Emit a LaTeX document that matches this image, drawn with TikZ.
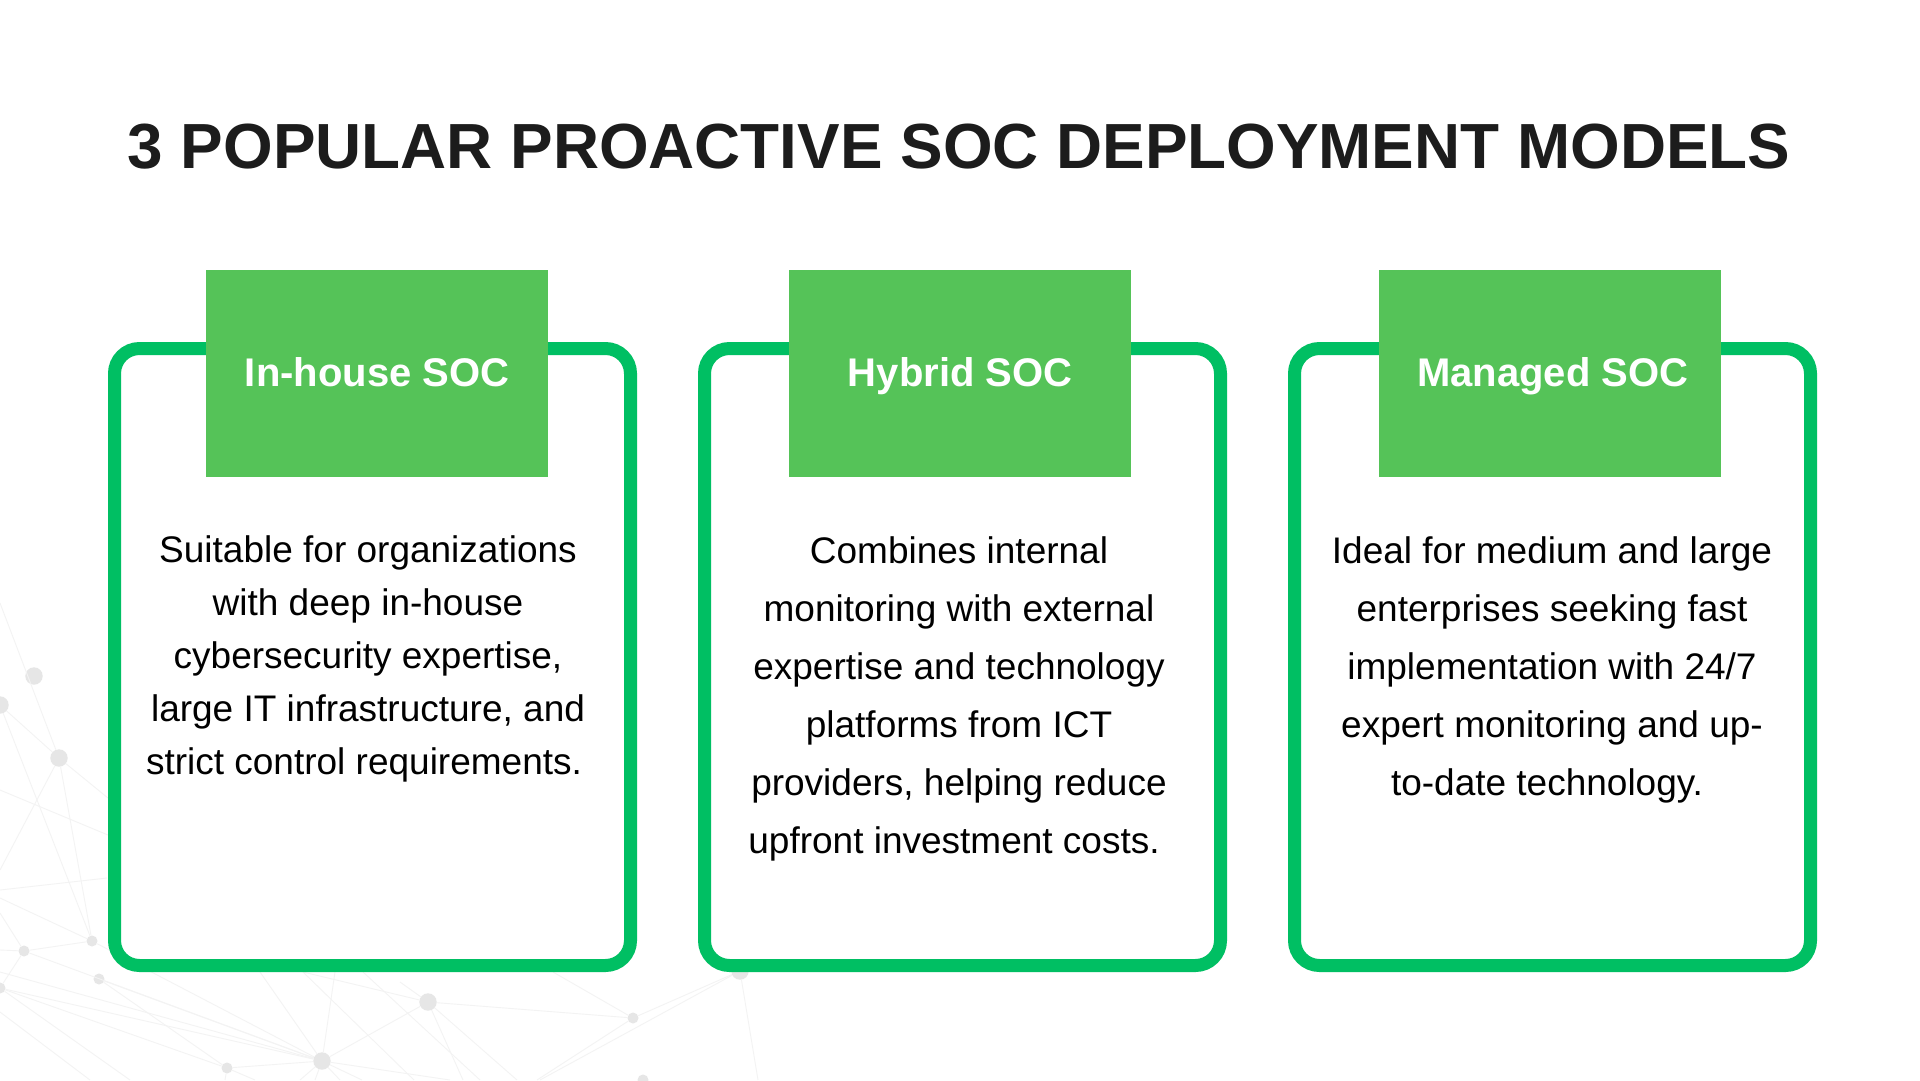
\documentclass[tikz,border=0pt]{standalone}
\usepackage{fontspec}
\setmainfont{Liberation Sans}
\definecolor{ring}{HTML}{00BF63}
\definecolor{head}{HTML}{55C358}
\definecolor{ink}{HTML}{1C1C1C}
\definecolor{net}{HTML}{E6E6E6}
\definecolor{netline}{HTML}{F3F3F3}
\tikzset{x=1pt,y=-1pt,
 ringbox/.style={draw=ring,line width=13pt,rounded corners=25pt,fill=white,minimum width=516pt,minimum height=617pt,anchor=north west},
 headbox/.style={fill=head,inner sep=0pt,font=\fontsize{40}{48}\selectfont\bfseries,text=white,minimum width=342pt,minimum height=207pt,anchor=north west,text height=29pt,text depth=4pt},
 bodytxt/.style={align=center,text=black,inner sep=0pt,anchor=north},
 dot/.style={circle,fill=net,inner sep=0pt},
 netedge/.style={draw=netline,line width=0.9pt}}
\begin{document}
\begin{tikzpicture}
\useasboundingbox (0,0) rectangle (1920,1080);
\fill[white] (0,0) rectangle (1920,1080);
% background network: dots
\foreach \n/\x/\y/\r in {a/34/676/8.7,b/0/705/8.7,c/59/758/8.7,e/92/941/5.5,f/24/951/5.5,g/99/979/5.5,h/0/988/5.5,i/428/1002/8.7,j/322/1061/8.7,k/633/1018/5.5,l/227/1068/5.5,m/740/971/8.7,n/643/1080/5.5}{
 \node[dot,minimum size=2*\r pt] (\n) at (\x,\y) {};}
% background network: free ends
\foreach \n/\x/\y in {p1/0/603,p2/0/870,p3/108/798,p4/0/790,p5/108/835,p6/0/890,p7/107/878,p8/0/898,p9/0/913,p10/0/950,p11/0/972,p12/0/1012,p13/90/1080,p14/130/1080,p15/260/972,p16/335/972,p17/303/972,p18/414/1080,p19/363/972,p20/480/1080,p21/553/972,p22/537/1080,p23/540/1080,p24/758/1080,p25/517/1080,p26/463/1080,p27/300/1080,p28/315/1080,p29/340/1080,p30/362/1080,p31/450/1080,p32/400/982,p33/225/1080,p34/255/1080}{
 \coordinate (\n) at (\x,\y);}
\foreach \p/\q in {p1/c,b/c,b/e,c/e,c/p2,c/p3,p4/p5,p6/p7,p8/e,e/j,p9/f,f/e,f/h,f/j,p10/f,g/j,g/l,h/j,h/l,p11/j,p12/p13,h/p14,p15/j,p16/j,j/i,p17/i,p17/p18,p19/p20,p21/k,i/k,k/m,k/p22,m/p23,m/p24,i/p25,i/p26,j/p27,j/p28,j/p29,j/p30,j/p31,i/p32,l/p33,l/p34,j/l}{
 \draw[netedge] (\p)--(\q);}
% title
\node[font=\fontsize{63.8}{76}\selectfont\bfseries,text=ink,anchor=base] (title) at (959,168) {3 POPULAR PROACTIVE SOC DEPLOYMENT MODELS};
% cards
\node[ringbox] (c1) at (108,342) {};
\node[ringbox] (c2) at (698,342) {};
\node[ringbox] (c3) at (1288,342) {};
\node[headbox] (h1) at (206,270) {In-house SOC};
\node[headbox] (h2) at (789,270) {Hybrid SOC};
\node[headbox] (h3) at (1379,270) {\hspace*{5pt}Managed SOC};
% text
\node[bodytxt,font=\fontsize{37}{53}\selectfont] (t1) at (368,535) {Suitable for organizations\\with deep in-house\\cybersecurity expertise,\\large IT infrastructure, and\\strict control requirements.\hspace*{8pt}};
\node[bodytxt,font=\fontsize{37}{58}\selectfont] (t2) at (959,536) {Combines internal\\monitoring with external\\expertise and technology\\platforms from ICT\\providers, helping reduce\\upfront investment costs.\hspace*{10pt}};
\node[bodytxt,font=\fontsize{37}{58}\selectfont] (t3) at (1552,536) {Ideal for medium and large\\enterprises seeking fast\\implementation with 24/7\\expert monitoring and up-\\to-date technology.\hspace*{10pt}};
\end{tikzpicture}
\end{document}
